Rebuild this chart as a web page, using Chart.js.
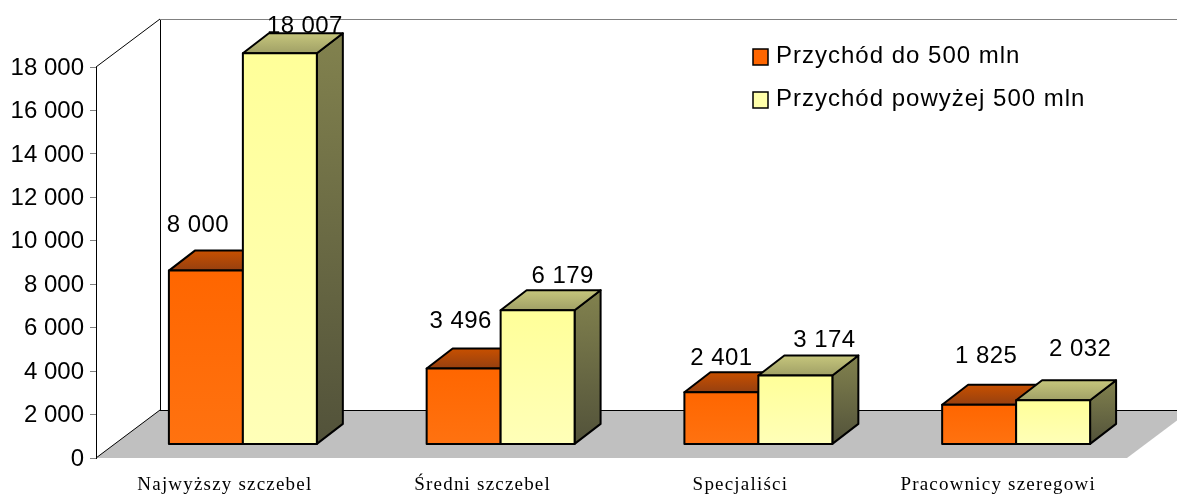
<!DOCTYPE html>
<html>
<head>
<meta charset="utf-8">
<script src="https://cdn.jsdelivr.net/npm/chart.js@4/dist/chart.umd.min.js"></script>
<style>
  html, body { margin: 0; padding: 0; background: #fff; }
  canvas { display: block; }
</style>
</head>
<body>
<canvas id="chart" width="1177" height="495"></canvas>
<script>
// Values
const categories = ["Najwyższy szczebel", "Średni szczebel", "Specjaliści", "Pracownicy szeregowi"];
const seriesNames = ["Przychód do 500 mln", "Przychód powyżej 500 mln"];
const przychodDo500 = [8000, 3496, 2401, 1825];
const przychodPowyzej500 = [18007, 6179, 3174, 2032];

// Look of the faces, one entry per series
const faces = [
  { front: ["#FF6600", "#FF7210"], side: ["#A84800", "#703000"], top: ["#C85000", "#964010"], key: "#FF6600" },
  { front: ["#FFFF99", "#FFFFB8"], side: ["#82824E", "#52523A"], top: ["#C6C67C", "#A0A066"], key: "#FFFFAA" },
];

// 3D offsets: whole box of the chart, and bars inside of it
const floorDepth = { x: 64, y: -48 };
const barShift = { x: 18, y: -13.6 };
const barDepth = { x: 26, y: -20 };

// The labels in the original do not sit at a regular distance from the bars
const labelNudge = [
  [{ x: -8, y: -45 }, { x: -3, y: -47 }, { x: 0, y: -34 }, { x: 7, y: -48 }],
  [{ x: 25, y: -27 }, { x: 25, y: -34 }, { x: 29, y: -35 }, { x: 27, y: -51 }],
];

const formatNumber = (v) => String(v).replace(/\B(?=(\d{3})+$)/g, " ");
const sansFont = "24px 'Liberation Sans'";

function vGradient(ctx, y0, y1, colors) {
  const g = ctx.createLinearGradient(0, y0, 0, y1);
  g.addColorStop(0, colors[0]);
  g.addColorStop(1, colors[1]);
  return g;
}

function polygon(ctx, points, fill) {
  ctx.beginPath();
  points.forEach((p, i) => (i ? ctx.lineTo(p[0], p[1]) : ctx.moveTo(p[0], p[1])));
  ctx.closePath();
  if (fill) {
    ctx.fillStyle = fill;
    ctx.fill();
  }
}

function drawBox(ctx, area) {
  const { left, right, top, bottom } = area;
  const dx = floorDepth.x;
  const dy = floorDepth.y;

  polygon(ctx, [[left, bottom], [left + dx, bottom + dy], [right + dx, bottom + dy], [right, bottom]], "#C0C0C0");

  ctx.lineWidth = 1;
  ctx.strokeStyle = "#000";
  ctx.beginPath();
  ctx.moveTo(left, top);
  ctx.lineTo(left + dx, top + dy);
  ctx.moveTo(left, bottom);
  ctx.lineTo(left + dx, bottom + dy);
  ctx.stroke();

  ctx.beginPath();
  ctx.moveTo(left + dx + 0.5, top + dy);
  ctx.lineTo(left + dx + 0.5, bottom + dy);
  ctx.moveTo(left + dx, bottom + dy + 0.5);
  ctx.lineTo(right + dx, bottom + dy + 0.5);
  ctx.stroke();

  ctx.strokeStyle = "#808080";
  ctx.beginPath();
  ctx.moveTo(left + dx, top + dy + 0.5);
  ctx.lineTo(right + dx, top + dy + 0.5);
  ctx.stroke();
}

function drawBar(ctx, bar, face) {
  const { x, y, base, width } = bar.getProps(["x", "y", "base", "width"], true);
  const l = x - width / 2;
  const r = x + width / 2;
  const dx = barDepth.x;
  const dy = barDepth.y;

  ctx.lineWidth = 2;
  ctx.lineJoin = "round";
  ctx.strokeStyle = "#000";

  polygon(ctx, [[r, y], [r + dx, y + dy], [r + dx, base + dy], [r, base]], vGradient(ctx, y + dy, base, face.side));
  ctx.stroke();
  polygon(ctx, [[l, y], [l + dx, y + dy], [r + dx, y + dy], [r, y]], vGradient(ctx, y + dy, y, face.top));
  ctx.stroke();

  // Front face comes from the library, only the outline is added
  bar.draw(ctx);
  ctx.lineWidth = 2;
  ctx.strokeStyle = "#000";
  ctx.strokeRect(l, y, width, base - y);
}

const bars3d = {
  id: "bars3d",
  // Everything is drawn here in series order, so the second series stays on top
  beforeDatasetsDraw(chart) {
    const ctx = chart.ctx;
    drawBox(ctx, chart.chartArea);

    ctx.save();
    ctx.translate(barShift.x, barShift.y);
    chart.data.datasets.forEach((ds, i) => {
      chart.getDatasetMeta(i).data.forEach((bar) => drawBar(ctx, bar, faces[i]));
    });
    ctx.restore();

    ctx.save();
    // Value labels
    ctx.font = sansFont;
    ctx.letterSpacing = "0.4px";
    ctx.fillStyle = "#000";
    ctx.textAlign = "center";
    ctx.textBaseline = "middle";
    chart.data.datasets.forEach((ds, i) => {
      chart.getDatasetMeta(i).data.forEach((bar, j) => {
        const n = labelNudge[i][j];
        ctx.fillText(formatNumber(ds.data[j]), bar.x + barShift.x + n.x, bar.y + barShift.y + n.y);
      });
    });

    // Legend
    ctx.textAlign = "left";
    ctx.letterSpacing = "1px";
    seriesNames.forEach((name, i) => {
      const y = 57 + i * 43;
      ctx.fillStyle = faces[i].key;
      ctx.fillRect(753, y - 8, 15, 16);
      ctx.lineWidth = 1.5;
      ctx.strokeStyle = "#000";
      ctx.strokeRect(753, y - 8, 15, 16);
      ctx.fillStyle = "#000";
      ctx.fillText(name, 776, y - 1);
    });
    ctx.restore();
    return false;
  },
};

// Category names are set wide in the original, the scale has no option for that
const wideXLabels = {
  id: "wideXLabels",
  beforeDraw(chart) {
    const scale = chart.scales.x;
    if (scale.wideLabels) return;
    const drawLabels = scale.drawLabels;
    scale.drawLabels = function (area) {
      chart.ctx.letterSpacing = "1.2px";
      drawLabels.call(scale, area);
      chart.ctx.letterSpacing = "0px";
    };
    scale.wideLabels = true;
  },
};

function seriesDataset(label, data, index) {
  return {
    label,
    data,
    borderWidth: 0,
    backgroundColor(c) {
      const y = c.chart.scales.y;
      const colors = faces[index].front;
      if (c.type !== "data" || !y) return colors[0];
      const y0 = y.getPixelForValue(c.raw);
      const y1 = y.getPixelForValue(0);
      if (!Number.isFinite(y0) || !Number.isFinite(y1)) return colors[0];
      return vGradient(c.chart.ctx, y0, y1, colors);
    },
  };
}

new Chart(document.getElementById("chart"), {
  type: "bar",
  data: {
    labels: categories,
    datasets: [
      seriesDataset(seriesNames[0], przychodDo500, 0),
      seriesDataset(seriesNames[1], przychodPowyzej500, 1),
    ],
  },
  plugins: [wideXLabels, bars3d],
  options: {
    responsive: false,
    animation: false,
    categoryPercentage: 0.574,
    barPercentage: 1,
    layout: { padding: { top: 67, right: 50, left: 0, bottom: 0 } },
    plugins: { legend: { display: false }, tooltip: { enabled: false } },
    scales: {
      x: {
        grid: { display: false },
        border: { display: false },
        ticks: {
          padding: 8,
          maxRotation: 0,
          color: "#000",
          font: { family: "'Liberation Serif'", size: 19 },
        },
        afterFit(scale) {
          scale.height = 37;
        },
      },
      y: {
        min: 0,
        max: 18000,
        grid: { drawOnChartArea: false, tickLength: 6, color: "#808080" },
        border: { color: "#000" },
        ticks: {
          stepSize: 2000,
          padding: 6,
          labelOffset: 1,
          color: "#000",
          font: { family: "'Liberation Sans'", size: 24 },
          callback: (v) => formatNumber(v),
        },
        afterFit(scale) {
          scale.width = 96;
        },
      },
    },
  },
});
</script>
</body>
</html>
